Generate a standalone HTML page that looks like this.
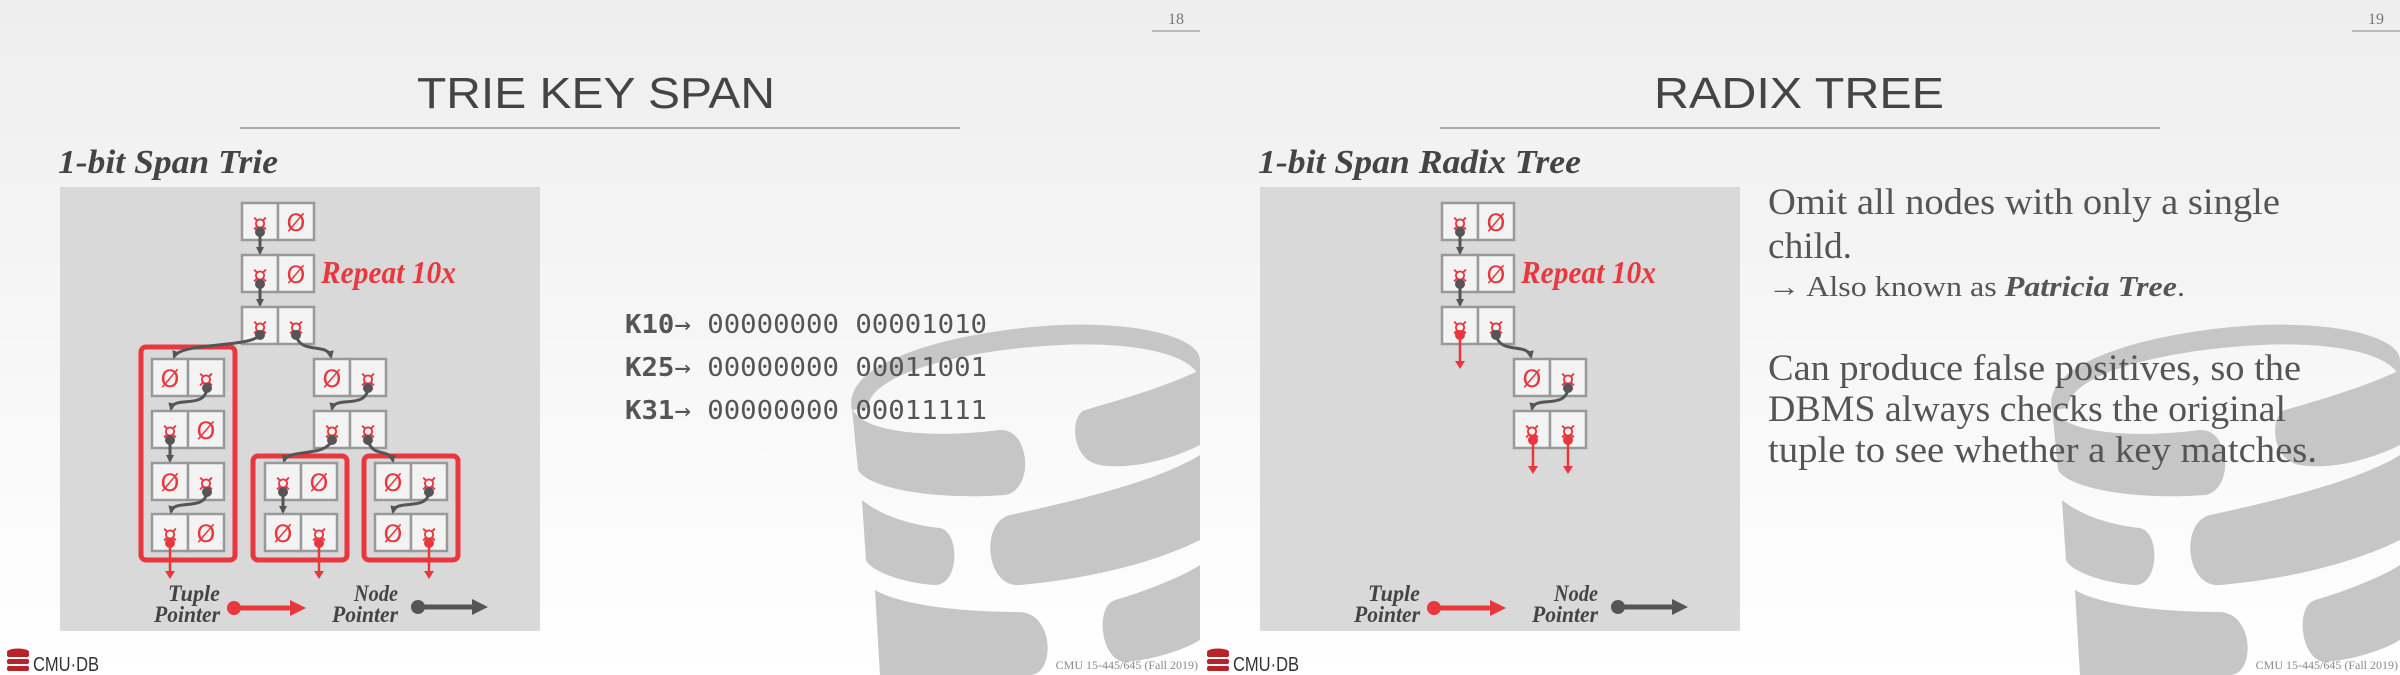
<!DOCTYPE html>
<html><head><meta charset="utf-8"><style>
html,body{margin:0;padding:0;}
body{width:2400px;height:675px;overflow:hidden;background:linear-gradient(#eeeeee,#ffffff);}
svg{display:block;}
</style></head><body>
<svg width="2400" height="675" viewBox="0 0 2400 675" xmlns="http://www.w3.org/2000/svg">
<defs>
<linearGradient id="bg" x1="0" y1="0" x2="0" y2="1"><stop offset="0" stop-color="#eeeeee"/><stop offset="1" stop-color="#ffffff"/></linearGradient>
<marker id="ad" markerWidth="8" markerHeight="8" refX="6" refY="4" orient="auto" markerUnits="userSpaceOnUse"><path d="M0,0 L8,4 L0,8 z" fill="#555"/></marker>
<marker id="ar" markerWidth="8" markerHeight="10" refX="6" refY="5" orient="auto" markerUnits="userSpaceOnUse"><path d="M0,0 L8,5 L0,10 z" fill="#e8383d"/></marker>
<g id="wm" fill="#c6c6c6">
  <path d="M852,410 C840,360 960,330 1060,325 C1150,322 1200,340 1200,360 L1200,378 C1190,350 1120,342 1060,345 C960,350 868,375 868,408 Z"/>
  <path d="M852,408 C860,430 920,440 1000,430 C1030,428 1035,490 1005,495 C940,500 870,490 858,470 Z"/>
  <path d="M1085,410 C1120,400 1170,385 1200,370 L1200,445 C1170,460 1130,470 1100,465 C1070,460 1070,415 1085,410 Z"/>
  <path d="M862,500 C880,515 910,525 940,528 C960,532 960,585 935,585 C900,583 870,570 866,560 Z"/>
  <path d="M1010,515 C1080,500 1160,480 1200,455 L1200,540 C1150,565 1080,580 1020,585 C985,588 980,522 1010,515 Z"/>
  <path d="M875,590 C900,605 960,612 1020,612 C1055,614 1055,675 1030,675 L880,675 Z"/>
  <path d="M1115,600 C1150,590 1185,575 1200,565 L1200,640 C1180,652 1150,660 1125,662 C1100,660 1095,606 1115,600 Z"/>
</g>
</defs>
<rect width="2400" height="675" fill="url(#bg)"/>
<use href="#wm"/>
<use href="#wm" x="1200"/>

<g font-family="Liberation Serif, serif" fill="#777" font-size="16">
<text x="1176" y="24" text-anchor="middle">18</text>
<text x="2376" y="24" text-anchor="middle">19</text>
</g>
<line x1="1152" y1="31" x2="1200" y2="31" stroke="#aaa" stroke-width="1.5"/>
<line x1="2352" y1="31" x2="2400" y2="31" stroke="#aaa" stroke-width="1.5"/>

<g font-family="Liberation Sans, sans-serif" font-size="44" fill="#444">
<text x="417" y="108" textLength="358" lengthAdjust="spacingAndGlyphs">TRIE KEY SPAN</text>
<text x="1654" y="108" textLength="290" lengthAdjust="spacingAndGlyphs">RADIX TREE</text>
</g>
<line x1="240" y1="128" x2="960" y2="128" stroke="#aaa" stroke-width="2"/>
<line x1="1440" y1="128" x2="2160" y2="128" stroke="#aaa" stroke-width="2"/>

<g font-family="Liberation Serif, serif" font-size="34" font-style="italic" font-weight="bold" fill="#444">
<text x="58" y="173" textLength="220" lengthAdjust="spacingAndGlyphs">1-bit Span Trie</text>
<text x="1258" y="173" textLength="323" lengthAdjust="spacingAndGlyphs">1-bit Span Radix Tree</text>
</g>

<rect x="60" y="187" width="480" height="444" fill="#d9d9d9"/>
<rect x="1260" y="187" width="480" height="444" fill="#d9d9d9"/>

<!-- LEFT DIAGRAM -->
<g stroke="#999" stroke-width="2.5" fill="#f3f3f3">
<rect x="242" y="203" width="36" height="37"/><rect x="278" y="203" width="36" height="37"/>
<rect x="242" y="255" width="36" height="37"/><rect x="278" y="255" width="36" height="37"/>
<rect x="242" y="307" width="36" height="37"/><rect x="278" y="307" width="36" height="37"/>
</g>
<g stroke="#e8383d" stroke-width="5" fill="none">
<rect x="141" y="347" width="94" height="213" rx="5"/>
<rect x="253" y="456" width="94" height="104" rx="5"/>
<rect x="364" y="456" width="94" height="104" rx="5"/>
</g>
<g stroke="#999" stroke-width="2.5" fill="#f3f3f3">
<rect x="152" y="359" width="36" height="37"/><rect x="188" y="359" width="36" height="37"/>
<rect x="152" y="411" width="36" height="37"/><rect x="188" y="411" width="36" height="37"/>
<rect x="152" y="463" width="36" height="37"/><rect x="188" y="463" width="36" height="37"/>
<rect x="152" y="514" width="36" height="37"/><rect x="188" y="514" width="36" height="37"/>
<rect x="314" y="359" width="36" height="37"/><rect x="350" y="359" width="36" height="37"/>
<rect x="314" y="411" width="36" height="37"/><rect x="350" y="411" width="36" height="37"/>
<rect x="265" y="463" width="36" height="37"/><rect x="301" y="463" width="36" height="37"/>
<rect x="265" y="514" width="36" height="37"/><rect x="301" y="514" width="36" height="37"/>
<rect x="375" y="463" width="36" height="37"/><rect x="411" y="463" width="36" height="37"/>
<rect x="375" y="514" width="36" height="37"/><rect x="411" y="514" width="36" height="37"/>
</g>
<g font-family="DejaVu Sans, sans-serif" font-size="24" fill="#e8383d" text-anchor="middle">
<text x="260" y="231">¤</text><text x="296" y="231">Ø</text>
<text x="260" y="283">¤</text><text x="296" y="283">Ø</text>
<text x="260" y="335">¤</text><text x="296" y="335">¤</text>
<text x="170" y="387">Ø</text><text x="206" y="387">¤</text>
<text x="170" y="439">¤</text><text x="206" y="439">Ø</text>
<text x="170" y="491">Ø</text><text x="206" y="491">¤</text>
<text x="170" y="542">¤</text><text x="206" y="542">Ø</text>
<text x="332" y="387">Ø</text><text x="368" y="387">¤</text>
<text x="332" y="439">¤</text><text x="368" y="439">¤</text>
<text x="283" y="491">¤</text><text x="319" y="491">Ø</text>
<text x="283" y="542">Ø</text><text x="319" y="542">¤</text>
<text x="393" y="491">Ø</text><text x="429" y="491">¤</text>
<text x="393" y="542">Ø</text><text x="429" y="542">¤</text>
</g>
<g stroke="#555" stroke-width="3" fill="none" marker-end="url(#ad)">
<path d="M260,233 L260,253"/>
<path d="M260,285 L260,305"/>
<path d="M260,335 C250,348 180,342 174,357"/>
<path d="M296,335 C300,355 328,342 331,357"/>
<path d="M207,388 C205,410 174,395 171,409"/>
<path d="M170,440 L170,461"/>
<path d="M207,492 C205,512 174,498 171,512"/>
<path d="M368,388 C366,410 335,395 332,409"/>
<path d="M332,440 C325,458 288,448 284,461"/>
<path d="M368,440 C372,458 390,448 393,461"/>
<path d="M283,492 L283,512"/>
<path d="M429,492 C427,512 396,498 393,512"/>
</g>
<g fill="#555">
<circle cx="260" cy="232" r="5"/><circle cx="260" cy="284" r="5"/><circle cx="260" cy="335" r="5"/><circle cx="296" cy="335" r="5"/>
<circle cx="207" cy="388" r="5"/><circle cx="170" cy="440" r="5"/><circle cx="207" cy="492" r="5"/>
<circle cx="368" cy="388" r="5"/><circle cx="332" cy="440" r="5"/><circle cx="368" cy="440" r="5"/>
<circle cx="283" cy="492" r="5"/><circle cx="429" cy="492" r="5"/>
</g>
<g stroke="#e8383d" stroke-width="2.5" marker-end="url(#ar)">
<line x1="170" y1="543" x2="170" y2="577"/>
<line x1="319" y1="543" x2="319" y2="577"/>
<line x1="429" y1="543" x2="429" y2="577"/>
</g>
<g fill="#e8383d"><circle cx="170" cy="543" r="5"/><circle cx="319" cy="543" r="5"/><circle cx="429" cy="543" r="5"/></g>
<text x="321" y="283" font-family="Liberation Serif, serif" font-size="32" font-style="italic" font-weight="bold" fill="#e8383d" textLength="135" lengthAdjust="spacingAndGlyphs">Repeat 10x</text>

<g font-family="Liberation Serif, serif" font-size="23" font-style="italic" font-weight="bold" fill="#444" text-anchor="end">
<text x="220" y="601" textLength="52" lengthAdjust="spacingAndGlyphs">Tuple</text><text x="220" y="622" textLength="66" lengthAdjust="spacingAndGlyphs">Pointer</text>
<text x="398" y="601" textLength="44" lengthAdjust="spacingAndGlyphs">Node</text><text x="398" y="622" textLength="66" lengthAdjust="spacingAndGlyphs">Pointer</text>
<text x="1420" y="601" textLength="52" lengthAdjust="spacingAndGlyphs">Tuple</text><text x="1420" y="622" textLength="66" lengthAdjust="spacingAndGlyphs">Pointer</text>
<text x="1598" y="601" textLength="44" lengthAdjust="spacingAndGlyphs">Node</text><text x="1598" y="622" textLength="66" lengthAdjust="spacingAndGlyphs">Pointer</text>
</g>
<g>
<circle cx="234" cy="608" r="7" fill="#e8383d"/><line x1="234" y1="608" x2="292" y2="608" stroke="#e8383d" stroke-width="5"/><path d="M290,600 L306,608 L290,616 z" fill="#e8383d"/>
<circle cx="418" cy="607" r="7" fill="#555"/><line x1="418" y1="607" x2="474" y2="607" stroke="#555" stroke-width="5"/><path d="M472,599 L488,607 L472,615 z" fill="#555"/>
<circle cx="1434" cy="608" r="7" fill="#e8383d"/><line x1="1434" y1="608" x2="1492" y2="608" stroke="#e8383d" stroke-width="5"/><path d="M1490,600 L1506,608 L1490,616 z" fill="#e8383d"/>
<circle cx="1618" cy="607" r="7" fill="#555"/><line x1="1618" y1="607" x2="1674" y2="607" stroke="#555" stroke-width="5"/><path d="M1672,599 L1688,607 L1672,615 z" fill="#555"/>
</g>

<g font-family="DejaVu Sans Mono, Liberation Mono, monospace" font-size="26" fill="#555">
<text x="625" y="333" textLength="362" lengthAdjust="spacingAndGlyphs"><tspan font-weight="bold">K10</tspan>→ 00000000  00001010</text>
<text x="625" y="376" textLength="362" lengthAdjust="spacingAndGlyphs"><tspan font-weight="bold">K25</tspan>→ 00000000  00011001</text>
<text x="625" y="419" textLength="362" lengthAdjust="spacingAndGlyphs"><tspan font-weight="bold">K31</tspan>→ 00000000  00011111</text>
</g>

<!-- RIGHT DIAGRAM -->
<g transform="translate(1200,0)">
<g stroke="#999" stroke-width="2.5" fill="#f3f3f3">
<rect x="242" y="203" width="36" height="37"/><rect x="278" y="203" width="36" height="37"/>
<rect x="242" y="255" width="36" height="37"/><rect x="278" y="255" width="36" height="37"/>
<rect x="242" y="307" width="36" height="37"/><rect x="278" y="307" width="36" height="37"/>
<rect x="314" y="359" width="36" height="37"/><rect x="350" y="359" width="36" height="37"/>
<rect x="314" y="411" width="36" height="37"/><rect x="350" y="411" width="36" height="37"/>
</g>
<g font-family="DejaVu Sans, sans-serif" font-size="24" fill="#e8383d" text-anchor="middle">
<text x="260" y="231">¤</text><text x="296" y="231">Ø</text>
<text x="260" y="283">¤</text><text x="296" y="283">Ø</text>
<text x="260" y="335">¤</text><text x="296" y="335">¤</text>
<text x="332" y="387">Ø</text><text x="368" y="387">¤</text>
<text x="332" y="439">¤</text><text x="368" y="439">¤</text>
</g>
<g stroke="#555" stroke-width="3" fill="none" marker-end="url(#ad)">
<path d="M260,233 L260,253"/>
<path d="M260,285 L260,305"/>
<path d="M296,335 C300,355 328,342 331,357"/>
<path d="M368,388 C366,410 335,395 332,409"/>
</g>
<g fill="#555">
<circle cx="260" cy="232" r="5"/><circle cx="260" cy="284" r="5"/><circle cx="296" cy="335" r="5"/><circle cx="368" cy="388" r="5"/>
</g>
<g stroke="#e8383d" stroke-width="2.5" marker-end="url(#ar)">
<line x1="260" y1="335" x2="260" y2="367"/>
<line x1="333" y1="440" x2="333" y2="472"/>
<line x1="368" y1="440" x2="368" y2="472"/>
</g>
<g fill="#e8383d"><circle cx="260" cy="335" r="5"/><circle cx="333" cy="440" r="5"/><circle cx="368" cy="440" r="5"/></g>
<text x="321" y="283" font-family="Liberation Serif, serif" font-size="32" font-style="italic" font-weight="bold" fill="#e8383d" textLength="135" lengthAdjust="spacingAndGlyphs">Repeat 10x</text>
</g>

<g font-family="Liberation Serif, serif" fill="#555">
<text x="1768" y="214" font-size="37" textLength="512" lengthAdjust="spacingAndGlyphs">Omit all nodes with only a single</text>
<text x="1768" y="258" font-size="37" textLength="84" lengthAdjust="spacingAndGlyphs">child.</text>
<text x="1768" y="296" font-size="28" textLength="417" lengthAdjust="spacingAndGlyphs">→ Also known as <tspan font-weight="bold" font-style="italic">Patricia Tree</tspan>.</text>
<text x="1768" y="380" font-size="37" textLength="533" lengthAdjust="spacingAndGlyphs">Can produce false positives, so the</text>
<text x="1768" y="421" font-size="37" textLength="518" lengthAdjust="spacingAndGlyphs">DBMS always checks the original</text>
<text x="1768" y="462" font-size="37" textLength="549" lengthAdjust="spacingAndGlyphs">tuple to see whether a key matches.</text>
</g>

<!-- footers -->
<g>
<g id="logo" fill="#b8222a">
<ellipse cx="18" cy="652" rx="11" ry="3.5"/>
<rect x="7" y="652" width="22" height="5" rx="2"/>
<rect x="7" y="659" width="22" height="5" rx="2"/>
<rect x="7" y="666" width="22" height="5" rx="2"/>
</g>
<text x="33" y="671" font-family="Liberation Sans, sans-serif" font-size="20" fill="#333" textLength="66" lengthAdjust="spacingAndGlyphs">CMU·DB</text>
<use href="#logo" x="1200"/>
<text x="1233" y="671" font-family="Liberation Sans, sans-serif" font-size="20" fill="#333" textLength="66" lengthAdjust="spacingAndGlyphs">CMU·DB</text>
<g font-family="Liberation Serif, serif" font-size="12" fill="#888" text-anchor="end">
<text x="1198" y="669">CMU 15-445/645 (Fall 2019)</text>
<text x="2398" y="669">CMU 15-445/645 (Fall 2019)</text>
</g>
</g>
</svg>
</body></html>
